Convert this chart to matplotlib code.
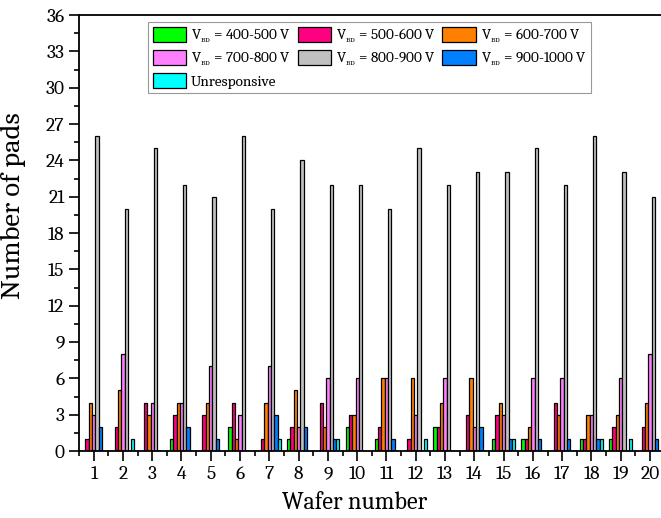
import numpy as np
import matplotlib.pyplot as plt
from matplotlib.ticker import MultipleLocator

plt.rcParams['font.family'] = ['Caladea', 'DejaVu Serif']
plt.rcParams['mathtext.fontset'] = 'custom'
plt.rcParams['mathtext.rm'] = 'Caladea'
plt.rcParams['mathtext.it'] = 'Caladea:italic'
plt.rcParams['mathtext.bf'] = 'Caladea:bold'

# wafer numbers
wafers = np.arange(1, 21)

# counts of pads per breakdown-voltage range
v400_500 = [0, 0, 0, 1, 0, 2, 0, 1, 0, 2, 1, 0, 2, 0, 1, 1, 0, 1, 1, 0]
v500_600 = [1, 2, 4, 3, 3, 4, 1, 2, 4, 3, 2, 1, 2, 3, 3, 1, 4, 1, 2, 2]
v600_700 = [4, 5, 3, 4, 4, 1, 4, 5, 2, 3, 6, 6, 4, 6, 4, 2, 3, 3, 3, 4]
v700_800 = [3, 8, 4, 4, 7, 3, 7, 2, 6, 6, 6, 3, 6, 2, 3, 6, 6, 3, 6, 8]
v800_900 = [26, 20, 25, 22, 21, 26, 20, 24, 22, 22, 20, 25, 22, 23, 23, 25, 22, 26, 23, 21]
v900_1000 = [2, 0, 0, 2, 1, 0, 3, 2, 1, 0, 1, 0, 0, 2, 1, 1, 1, 1, 0, 1]
unresp = [0, 1, 0, 0, 0, 0, 1, 0, 1, 0, 0, 1, 0, 0, 1, 0, 0, 1, 1, 0]

series = [v400_500, v500_600, v600_700, v700_800, v800_900, v900_1000, unresp]
labels = [r'V$_{_{\rm BD}}$ = 400-500 V', r'V$_{_{\rm BD}}$ = 500-600 V',
          r'V$_{_{\rm BD}}$ = 600-700 V', r'V$_{_{\rm BD}}$ = 700-800 V',
          r'V$_{_{\rm BD}}$ = 800-900 V', r'V$_{_{\rm BD}}$ = 900-1000 V',
          'Unresponsive']
colors = ['#00FF00', '#FF0080', '#FF8000', '#FF80FF', '#C0C0C0', '#0080FF', '#00FFFF']

fig = plt.figure(figsize=(6.61, 5.18), dpi=100)
ax = fig.add_axes([0.1195, 0.1293, 0.886, 0.8417])

w = 0.113
bars = []
for i, (vals, c, lab) in enumerate(zip(series, colors, labels)):
    b = ax.bar(wafers + (i - 3) * w, vals, width=w, color=c,
               edgecolor='black', linewidth=0.9, label=lab)
    bars.append(b)

ax.set_xlim(0.5, 20.5)
ax.set_ylim(0, 36)
ax.set_xticks(wafers)
ax.xaxis.set_minor_locator(MultipleLocator(0.5))
ax.yaxis.set_major_locator(MultipleLocator(3))
ax.yaxis.set_minor_locator(MultipleLocator(1.5))
ax.tick_params(which='major', direction='out', length=7, width=1.2, labelsize=14)
ax.tick_params(which='minor', direction='out', length=3.5, width=1.2)
for s in ax.spines.values():
    s.set_linewidth(1.3)

ax.set_xlabel('Wafer number', fontsize=17.5)
ax.xaxis.set_label_coords(0.47, -0.093)
ax.set_ylabel('Number of pads', fontsize=20.5)
ax.yaxis.set_label_coords(-0.09, 0.562)

# legend filled row by row, matplotlib fills by column
order = [0, 3, 6, 1, 4, 2, 5]
leg = ax.legend([bars[k] for k in order], [labels[k] for k in order],
                ncol=3, loc='upper left', bbox_to_anchor=(0.118, 0.984),
                borderaxespad=0, fontsize=11, frameon=True, fancybox=False,
                handlelength=2.2, handleheight=1.1, handletextpad=0.3,
                columnspacing=0.45, labelspacing=0.32, borderpad=0.3)
leg.get_frame().set_edgecolor('#808080')
leg.get_frame().set_linewidth(0.8)

fig.savefig('out.png', dpi=100)
